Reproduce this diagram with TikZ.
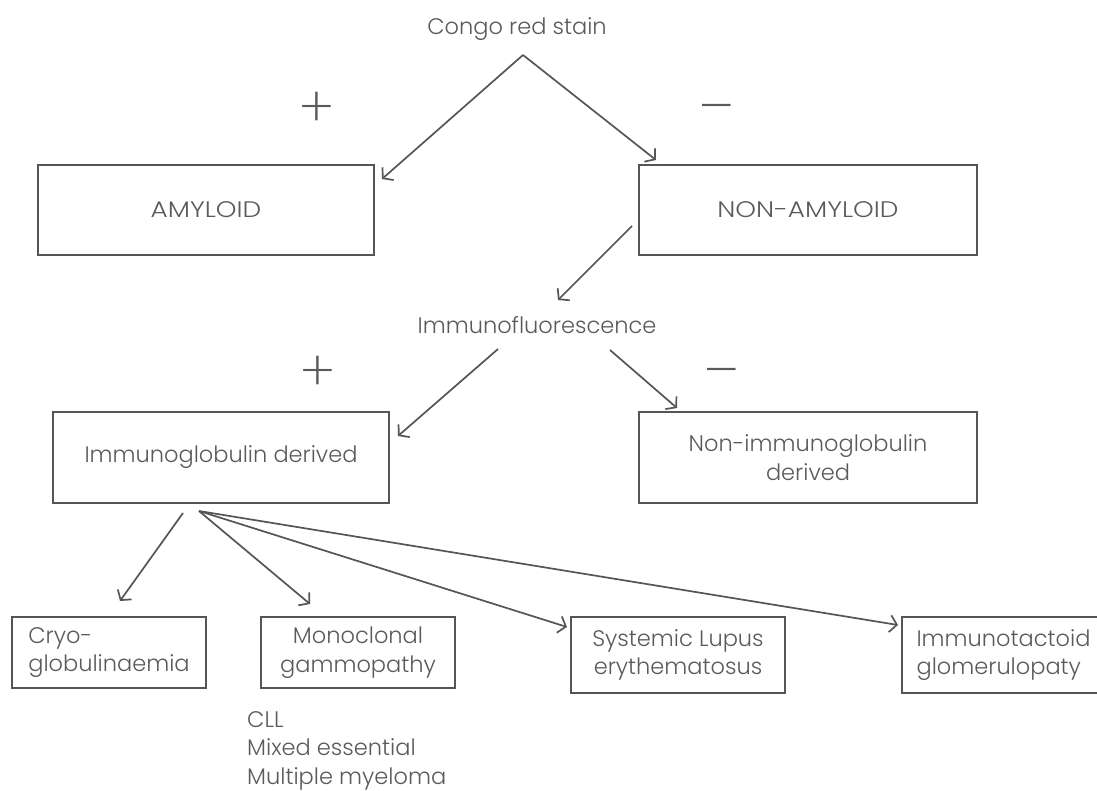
\documentclass[tikz,border=0pt]{standalone}
\usepackage{fontspec}
\setmainfont{Poppins}[UprightFont=* Light]
\newfontfamily\capsfont{Poppins}[UprightFont=* Light, FakeStretch=1.17]
\newfontfamily\signfont{Poppins}[UprightFont=* ExtraLight]
\usetikzlibrary{arrows.meta}
\definecolor{lc}{HTML}{555555}
\definecolor{tc}{HTML}{5A5A5A}
\begin{document}
\begin{tikzpicture}[x=1pt,y=-1pt,
  box/.style={draw=lc, line width=2.2pt, text=tc, align=center, inner sep=0pt},
  lbl/.style={text=tc, inner sep=0pt, align=center},
  sign/.style={text=tc, inner sep=0pt, font=\signfont\fontsize{56}{56}\selectfont},
  arr/.style={draw=lc, line width=1.7pt, -{Straight Barb[length=7pt,width=17pt,line width=1.7pt]}},
  font=\fontsize{22.5}{28.5}\selectfont]
\useasboundingbox (0,0) rectangle (1097,790);
\fill[white] (0,0) rectangle (1097,790);

\node[lbl, anchor=base] (congo) at (517,34) {Congo red stain};
\node[sign] (plus1) at (317,110) {+};
\node[sign] (minus1) at (717,115) {–};
\node[box, minimum width=336pt, minimum height=90pt, font=\capsfont\fontsize{22.5}{28.5}\selectfont] (amy) at (206,210) {AMYLOID};
\node[box, minimum width=338pt, minimum height=90pt, font=\capsfont\fontsize{22.5}{28.5}\selectfont] (nonamy) at (808,210) {NON-AMYLOID};

\node[lbl, anchor=base] (immf) at (537,333) {Immunofluorescence};
\node[sign] (plus2) at (318,374) {+};
\node[sign] (minus2) at (722,379) {–};
\node[box, minimum width=336pt, minimum height=91pt] (ig) at (221,457.5) {Immunoglobulin derived};
\node[box, minimum width=338pt, minimum height=91pt] (nig) at (808,457.5) {Non-immunoglobulin\\derived};

\node[box, align=left, minimum width=194pt, minimum height=71pt] (cryo) at (109,652.5) {Cryo-\\globulinaemia};
\node[box, minimum width=194pt, minimum height=71pt] (mono) at (358,652.5) {Monoclonal\\gammopathy};
\node[box, minimum width=214pt, minimum height=76pt] (sle) at (678,655) {Systemic Lupus\\erythematosus};
\node[box, align=left, minimum width=203pt, minimum height=76pt] (itg) at (1003.5,655) {Immunotactoid\\glomerulopaty};
\node[lbl, align=left, anchor=north west] (list) at (247,711) {CLL\\Mixed essential\\Multiple myeloma};

\coordinate (apex) at (523,55);
\coordinate (amyT) at (382,179);
\coordinate (namyT) at (656,160);
\coordinate (namyS) at (632,226);
\coordinate (immfT) at (558,300);
\coordinate (immL) at (498,349);
\coordinate (immR) at (610,350);
\coordinate (igT) at (398,436);
\coordinate (nigT) at (677,408);
\coordinate (igS1) at (183,513);
\coordinate (igS2) at (199,511);
\coordinate (cryoT) at (120,601);
\coordinate (monoT) at (310,604);
\coordinate (sleT) at (567,627);
\coordinate (itgT) at (898,625);

\draw[arr] (apex) -- (amyT);
\draw[arr] (apex) -- (namyT);
\draw[arr] (namyS) -- (immfT);
\draw[arr] (immL) -- (igT);
\draw[arr] (immR) -- (nigT);
\draw[arr] (igS1) -- (cryoT);
\draw[arr] (igS2) -- (monoT);
\draw[arr] (igS2) -- (sleT);
\draw[arr] (igS2) -- (itgT);
\end{tikzpicture}
\end{document}
